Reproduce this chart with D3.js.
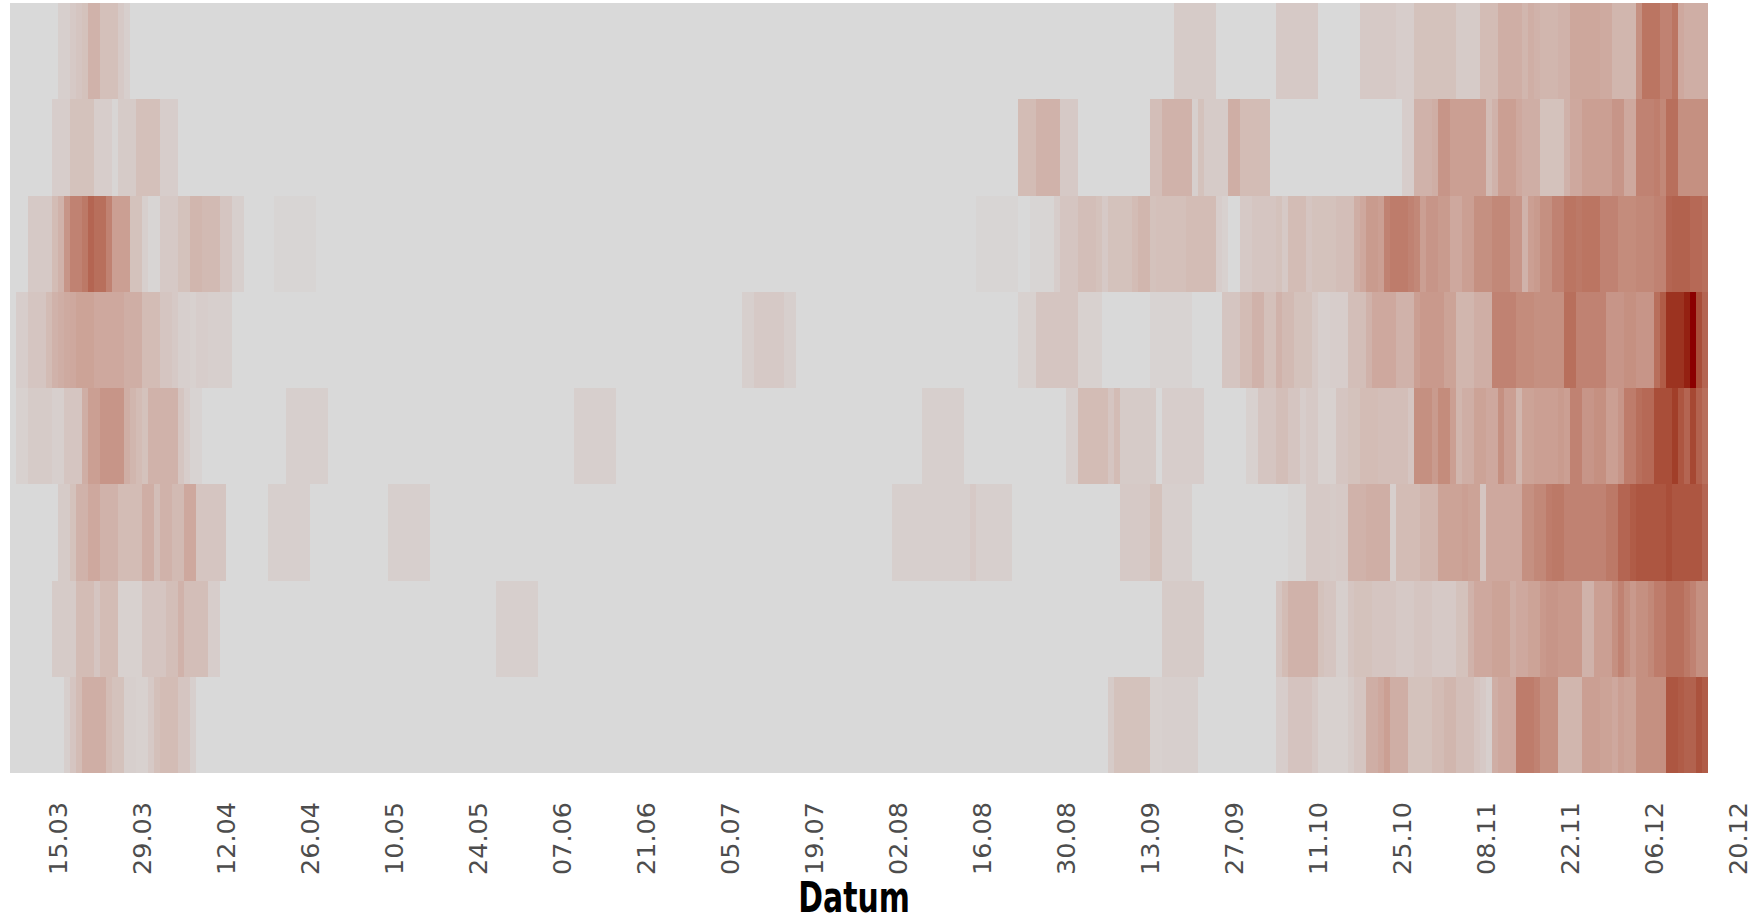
<!DOCTYPE html>
<html lang="de">
<head>
    <meta charset="UTF-8">
    <title>Heatmap nach Datum</title>
    <script src="https://d3js.org/d3.v7.min.js"></script>
    <style>
        body {
            margin: 0;
            background-color: #ffffff;
        }
        .tick-label {
            font-family: "DejaVu Sans", sans-serif;
            font-size: 25.5px;
            fill: #4d4d4d;
        }
        .axis-title {
            font-family: "DejaVu Sans Condensed", "DejaVu Sans", sans-serif;
            font-weight: bold;
            font-size: 40px;
            fill: #000000;
        }
    </style>
</head>
<body>
    <svg id="chart" width="1762" height="919"></svg>

    <script>
        // first day of the series (one cell per day)
        const startDate = "2020-03-08";

        // date labels on the x axis
        const tickLabels = ["15.03", "29.03", "12.04", "26.04", "10.05", "24.05", "07.06", "21.06",
            "05.07", "19.07", "02.08", "16.08", "30.08", "13.09", "27.09", "11.10",
            "25.10", "08.11", "22.11", "06.12", "20.12"];

        // one daily series per row, top to bottom (0 = none, 100 = darkest)
        const row1 = [
            0,0,0,0,0,0,0,0,5,5, 8,10,12,20,20,13,13,13,8,5,
            0,0,0,0,0,0,0,0,0,0, 0,0,0,0,0,0,0,0,0,0,
            0,0,0,0,0,0,0,0,0,0, 0,0,0,0,0,0,0,0,0,0,
            0,0,0,0,0,0,0,0,0,0, 0,0,0,0,0,0,0,0,0,0,
            0,0,0,0,0,0,0,0,0,0, 0,0,0,0,0,0,0,0,0,0,
            0,0,0,0,0,0,0,0,0,0, 0,0,0,0,0,0,0,0,0,0,
            0,0,0,0,0,0,0,0,0,0, 0,0,0,0,0,0,0,0,0,0,
            0,0,0,0,0,0,0,0,0,0, 0,0,0,0,0,0,0,0,0,0,
            0,0,0,0,0,0,0,0,0,0, 0,0,0,0,0,0,0,0,0,0,
            0,0,0,0,0,0,0,0,0,0, 0,0,0,0,7,7,7,7,7,7,
            7,0,0,0,0,0,0,0,0,0, 0,8,8,8,8,8,8,8,0,0,
            0,0,0,0,0,8,8,8,8,8, 8,6,6,6,12,12,12,12,12,12,
            12,7,7,7,7,15,15,15,22,22, 22,22,18,22,20,18,18,18,20,20,
            26,26,26,26,26,24,24,18,18,18, 18,38,52,52,52,45,45,52,25,22,
            22,22,22
        ];
        const row2 = [
            0,0,0,0,0,0,0,6,6,6, 12,12,12,12,6,6,6,2,7,7,
            7,13,13,13,13,6,6,6,0,0, 0,0,0,0,0,0,0,0,0,0,
            0,0,0,0,0,0,0,0,0,0, 0,0,0,0,0,0,0,0,0,0,
            0,0,0,0,0,0,0,0,0,0, 0,0,0,0,0,0,0,0,0,0,
            0,0,0,0,0,0,0,0,0,0, 0,0,0,0,0,0,0,0,0,0,
            0,0,0,0,0,0,0,0,0,0, 0,0,0,0,0,0,0,0,0,0,
            0,0,0,0,0,0,0,0,0,0, 0,0,0,0,0,0,0,0,0,0,
            0,0,0,0,0,0,0,0,0,0, 0,0,0,0,0,0,0,0,0,0,
            0,0,0,0,0,0,0,0,15,15, 15,20,20,20,20,8,8,8,0,0,
            0,0,0,0,0,0,0,0,0,0, 14,14,20,20,20,20,20,5,12,7,
            7,7,7,22,22,15,15,15,15,15, 0,0,0,0,0,0,0,0,0,0,
            0,0,0,0,0,0,0,0,0,0, 0,0,6,6,20,20,20,22,35,35,
            30,30,30,30,30,30,15,20,30,30, 30,25,22,22,22,12,12,12,12,20,
            25,25,30,30,30,30,30,35,35,25, 25,45,45,45,47,42,55,55,38,38,
            38,38,38
        ];
        const row3 = [
            0,0,0,8,8,8,8,15,20,35, 45,45,50,60,55,55,45,30,30,30,
            12,12,5,2,2,8,8,8,12,12, 18,18,16,16,16,10,10,5,5,0,
            0,0,0,0,2,2,2,2,2,2, 2,0,0,0,0,0,0,0,0,0,
            0,0,0,0,0,0,0,0,0,0, 0,0,0,0,0,0,0,0,0,0,
            0,0,0,0,0,0,0,0,0,0, 0,0,0,0,0,0,0,0,0,0,
            0,0,0,0,0,0,0,0,0,0, 0,0,0,0,0,0,0,0,0,0,
            0,0,0,0,0,0,0,0,0,0, 0,0,0,0,0,0,0,0,0,0,
            0,0,0,0,0,0,0,0,0,0, 0,0,0,0,0,0,0,0,0,0,
            0,2,2,2,2,2,2,2,0,0, 2,2,2,2,6,10,10,10,14,14,
            14,12,8,12,12,12,12,15,18,18, 12,13,13,13,13,13,15,15,15,15,
            15,6,4,0,0,8,8,10,10,10, 10,12,8,15,15,15,10,12,12,12,
            12,14,14,14,22,25,32,32,30,45, 48,48,48,45,42,30,35,35,32,32,
            25,25,30,30,38,38,38,42,42,42, 35,35,20,30,32,38,38,45,45,52,
            52,50,52,52,52,45,45,45,40,40, 40,42,42,42,45,45,60,62,62,62,
            58,58,55
        ];
        const row4 = [
            0,6,6,10,10,10,15,20,22,24, 25,28,28,28,25,25,25,25,25,22,
            22,22,15,15,15,10,10,8,5,5, 4,6,6,5,5,5,5,0,0,0,
            0,0,0,0,0,0,0,0,0,0, 0,0,0,0,0,0,0,0,0,0,
            0,0,0,0,0,0,0,0,0,0, 0,0,0,0,0,0,0,0,0,0,
            0,0,0,0,0,0,0,0,0,0, 0,0,0,0,0,0,0,0,0,0,
            0,0,0,0,0,0,0,0,0,0, 0,0,0,0,0,0,0,0,0,0,
            0,0,5,5,8,8,8,8,8,5, 5,0,0,0,0,0,0,0,0,0,
            0,0,0,0,0,0,0,0,0,0, 0,0,0,0,0,0,0,0,0,0,
            0,0,0,0,0,0,0,0,4,4, 4,10,10,10,10,10,10,10,4,4,
            4,4,0,0,0,0,0,0,0,0, 3,3,3,3,3,3,3,0,0,0,
            0,0,10,10,10,15,15,20,20,13, 13,20,16,16,12,12,12,8,5,5,
            6,6,6,14,14,14,20,25,25,25, 25,20,20,20,30,33,33,33,33,28,
            28,18,18,18,22,22,22,45,45,45, 45,40,40,40,38,38,38,38,38,55,
            55,45,45,45,45,45,35,35,35,38, 38,35,35,35,55,65,85,85,85,92,
            100,72,60
        ];
        const row5 = [
            0,4,4,7,7,7,7,5,5,10, 10,10,22,30,30,35,35,35,35,22,
            18,15,12,20,20,20,20,20,10,6, 3,3,0,0,0,0,0,0,0,0,
            0,0,0,0,0,0,5,5,5,5, 5,5,5,0,0,0,0,0,0,0,
            0,0,0,0,0,0,0,0,0,0, 0,0,0,0,0,0,0,0,0,0,
            0,0,0,0,0,0,0,0,0,0, 0,0,0,0,5,5,5,5,5,5,
            5,0,0,0,0,0,0,0,0,0, 0,0,0,0,0,0,0,0,0,0,
            0,0,0,0,0,0,0,0,0,0, 0,0,0,0,0,0,0,0,0,0,
            0,0,0,0,0,0,0,0,0,0, 0,0,5,5,5,5,5,5,5,0,
            0,0,0,0,0,0,0,0,0,0, 0,0,0,0,0,0,5,5,15,15,
            15,15,15,10,15,7,7,7,7,7, 7,0,6,6,6,6,6,6,6,0,
            0,0,0,0,0,0,4,4,10,10, 10,14,14,10,10,6,8,8,4,4,
            4,10,10,12,12,15,15,15,14,14, 14,14,14,10,38,38,38,32,40,40,
            30,18,22,22,28,28,25,25,38,30, 30,18,28,28,30,30,30,30,32,30,
            45,45,35,35,38,38,30,30,35,48, 48,55,58,58,72,72,72,80,68,60,
            75,62,55
        ];
        const row6 = [
            0,0,0,0,0,0,0,0,7,7, 12,20,20,25,25,20,20,20,15,15,
            15,15,22,22,14,20,20,16,16,25, 25,10,10,10,10,10,0,0,0,0,
            0,0,0,5,5,5,5,5,5,5, 0,0,0,0,0,0,0,0,0,0,
            0,0,0,5,5,5,5,5,5,5, 0,0,0,0,0,0,0,0,0,0,
            0,0,0,0,0,0,0,0,0,0, 0,0,0,0,0,0,0,0,0,0,
            0,0,0,0,0,0,0,0,0,0, 0,0,0,0,0,0,0,0,0,0,
            0,0,0,0,0,0,0,0,0,0, 0,0,0,0,0,0,0,0,0,0,
            0,0,0,0,0,0,0,5,5,5, 5,5,5,5,5,5,5,5,5,5,
            8,5,5,5,5,5,5,0,0,0, 0,0,0,0,0,0,0,0,0,0,
            0,0,0,0,0,8,8,8,8,8, 12,12,5,5,5,5,5,0,0,0,
            0,0,0,0,0,0,0,0,0,0, 0,0,0,2,2,2,8,8,8,8,
            7,8,8,20,20,20,22,22,22,22, 5,15,15,15,15,18,18,18,28,28,
            28,28,30,28,28,10,25,25,25,25, 25,25,38,38,42,42,48,50,50,45,
            45,45,45,45,45,45,50,50,60,60, 65,68,68,68,68,68,72,68,68,68,
            68,68,60
        ];
        const row7 = [
            0,0,0,0,0,0,0,7,7,7, 7,15,15,15,10,15,15,15,4,4,
            4,4,10,10,10,10,14,14,20,14, 14,14,14,6,6,0,0,0,0,0,
            0,0,0,0,0,0,0,0,0,0, 0,0,0,0,0,0,0,0,0,0,
            0,0,0,0,0,0,0,0,0,0, 0,0,0,0,0,0,0,0,0,0,
            0,5,5,5,5,5,5,5,0,0, 0,0,0,0,0,0,0,0,0,0,
            0,0,0,0,0,0,0,0,0,0, 0,0,0,0,0,0,0,0,0,0,
            0,0,0,0,0,0,0,0,0,0, 0,0,0,0,0,0,0,0,0,0,
            0,0,0,0,0,0,0,0,0,0, 0,0,0,0,0,0,0,0,0,0,
            0,0,0,0,0,0,0,0,0,0, 0,0,0,0,0,0,0,0,0,0,
            0,0,0,0,0,0,0,0,0,0, 0,0,7,7,7,7,7,7,7,0,
            0,0,0,0,0,0,0,0,0,0, 0,10,15,20,20,20,20,20,12,10,
            10,5,5,10,12,12,12,10,10,10, 10,8,8,8,10,10,10,8,8,8,
            8,12,12,20,25,25,25,28,28,28, 22,25,25,28,28,33,35,35,33,33,
            33,33,20,20,30,30,30,38,45,38, 33,38,38,42,48,48,55,55,55,50,
            45,38,38
        ];
        const row8 = [
            0,0,0,0,0,0,0,0,0,5, 10,15,22,22,22,22,15,12,12,5,
            5,4,4,8,13,15,15,15,10,10, 5,0,0,0,0,0,0,0,0,0,
            0,0,0,0,0,0,0,0,0,0, 0,0,0,0,0,0,0,0,0,0,
            0,0,0,0,0,0,0,0,0,0, 0,0,0,0,0,0,0,0,0,0,
            0,0,0,0,0,0,0,0,0,0, 0,0,0,0,0,0,0,0,0,0,
            0,0,0,0,0,0,0,0,0,0, 0,0,0,0,0,0,0,0,0,0,
            0,0,0,0,0,0,0,0,0,0, 0,0,0,0,0,0,0,0,0,0,
            0,0,0,0,0,0,0,0,0,0, 0,0,0,0,0,0,0,0,0,0,
            0,0,0,0,0,0,0,0,0,0, 0,0,0,0,0,0,0,0,0,0,
            0,0,0,7,12,12,12,12,12,12, 4,4,5,5,5,5,5,5,0,0,
            0,0,0,0,0,0,0,0,0,0, 0,6,6,11,11,11,11,8,4,4,
            4,4,4,7,10,10,22,22,25,30, 22,22,22,12,12,12,12,15,15,18,
            18,14,14,14,10,8,5,22,25,25, 25,48,48,48,45,38,38,38,18,18,
            18,18,30,30,30,28,28,25,30,28, 28,38,38,38,38,38,68,68,65,62,
            62,70,65
        ];

        const series = [row1, row2, row3, row4, row5, row6, row7, row8];
        const rowIds = d3.range(series.length);

        const plot = { left: 10, right: 1708, top: 3, bottom: 773 };
        const nDays = row1.length;

        const parseDay = d3.utcParse("%Y-%m-%d");
        const day0 = parseDay(startDate);
        const dayEnd = d3.utcDay.offset(day0, nDays);

        const x = d3.scaleUtc()
            .domain([day0, dayEnd])
            .range([plot.left, plot.right]);

        const y = d3.scaleBand()
            .domain(rowIds)
            .range([plot.top, plot.bottom]);

        const maxVal = d3.max(series, s => d3.max(s));
        const color = d3.scaleLinear()
            .domain([0, maxVal])
            .range(["#d9d9d9", "#8b0000"])
            .interpolate(d3.interpolateLab);

        const cells = [];
        series.forEach((s, r) => {
            s.forEach((v, i) => {
                cells.push({ row: r, date: d3.utcDay.offset(day0, i), value: v });
            });
        });

        const svg = d3.select("#chart");

        svg.append("g")
            .selectAll("rect")
            .data(cells)
            .enter().append("rect")
            .attr("x", d => x(d.date))
            .attr("y", d => y(d.row))
            .attr("width", d => x(d3.utcDay.offset(d.date, 1)) - x(d.date))
            .attr("height", y.bandwidth())
            .attr("fill", d => color(d.value))
            .attr("shape-rendering", "crispEdges");

        // tick positions: middle of each labelled day
        const year = day0.getUTCFullYear();
        const parseLabel = d3.utcParse("%d.%m.%Y");
        const tickDates = tickLabels.map(t => d3.utcHour.offset(parseLabel(t + "." + year), 12));
        const fmt = d3.utcFormat("%d.%m");

        const xAxis = svg.append("g")
            .attr("transform", `translate(0, ${plot.bottom})`)
            .call(d3.axisBottom(x).tickValues(tickDates).tickFormat(fmt).tickSize(0));

        xAxis.select(".domain").remove();
        xAxis.selectAll("text")
            .attr("class", "tick-label")
            .attr("font-family", null)
            .attr("font-size", null)
            .attr("fill", null)
            .attr("transform", "rotate(-90)")
            .attr("text-anchor", "end")
            .attr("x", -29)
            .attr("y", 0)
            .attr("dy", "0.44em");

        // narrow bold axis title
        svg.append("text")
            .attr("class", "axis-title")
            .attr("transform", `translate(${(plot.left + plot.right) / 2 - 5}, 912) scale(0.83, 1.05)`)
            .attr("text-anchor", "middle")
            .text("Datum");
    </script>
</body>
</html>
